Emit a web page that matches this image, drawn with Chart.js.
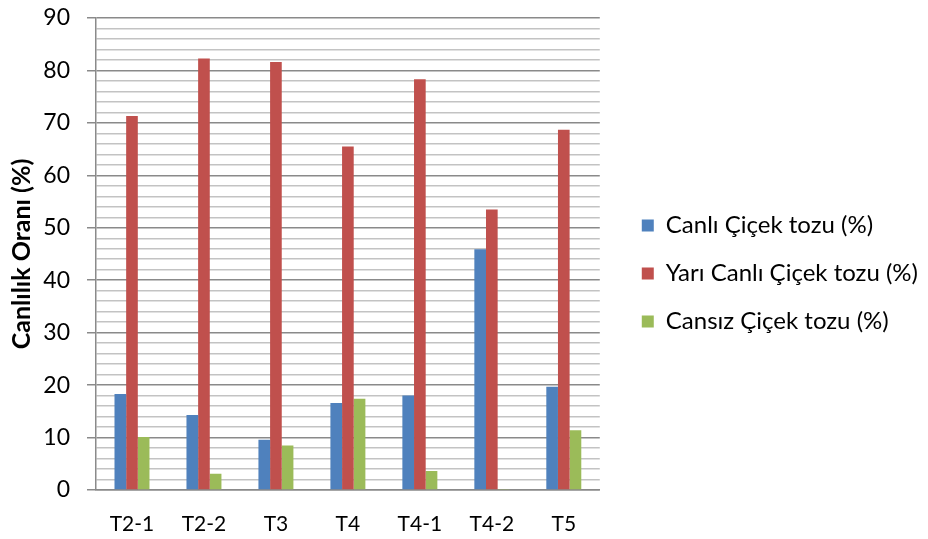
<!DOCTYPE html>
<html>
<head>
<meta charset="utf-8">
<script src="https://cdn.jsdelivr.net/npm/chart.js@4/dist/chart.umd.min.js"></script>
<style>
  html, body { margin: 0; padding: 0; background: #ffffff; }
  #wrap { position: relative; width: 928px; height: 539px; }
</style>
</head>
<body>
<div id="wrap"><canvas id="chart" width="928" height="539"></canvas></div>
<script>
// Pollen viability per treatment (percent)
const categories = ['T2-1', 'T2-2', 'T3', 'T4', 'T4-1', 'T4-2', 'T5'];
const canli      = [18.3, 14.3, 9.6, 16.6, 18.0, 45.9, 19.7];
const yariCanli  = [71.3, 82.3, 81.6, 65.5, 78.3, 53.5, 68.7];
const cansiz     = [10.1, 3.1, 8.5, 17.4, 3.6, 0.2, 11.4];

const seriesNames = ['Canlı Çiçek tozu (%)', 'Yarı Canlı Çiçek tozu (%)', 'Cansız Çiçek tozu (%)'];
const yTitle = 'Canlılık Oranı (%)';
const yMin = 0, yMax = 90, yMajorStep = 10, yMinorStep = 2;

const FONT = 'Lato, "Open Sans", "Liberation Sans", sans-serif';
const MAJOR = '#8a8a8a';
const MINOR = '#c3c3c3';
const isMajor = v => Math.abs(v % yMajorStep) < 1e-9;

new Chart(document.getElementById('chart'), {
  type: 'bar',
  data: {
    labels: categories,
    datasets: [
      { label: seriesNames[0], data: canli,     backgroundColor: '#4f81bd' },
      { label: seriesNames[1], data: yariCanli, backgroundColor: '#c0504d' },
      { label: seriesNames[2], data: cansiz,    backgroundColor: '#9bbb59' }
    ]
  },
  options: {
    responsive: false,
    animation: false,
    devicePixelRatio: 1,
    datasets: { bar: { categoryPercentage: 0.486, barPercentage: 1.0, borderWidth: 0 } },
    layout: { padding: { top: 18, bottom: 0, left: 0, right: 0 } },
    plugins: {
      tooltip: { enabled: false },
      legend: {
        position: 'right',
        align: 'center',
        maxWidth: 400,
        // empty title with negative padding nudges the item column upward
        title: { display: true, text: '', font: { family: FONT, size: 1 }, padding: { top: -11, bottom: 0 } },
        labels: {
          font: { family: FONT, size: 24 },
          color: '#000000',
          boxWidth: 12,
          boxHeight: 12,
          padding: 24
        }
      }
    },
    scales: {
      x: {
        afterFit: s => { s.height = 49; },
        grid: { display: false, drawTicks: false },
        border: { display: true, color: MAJOR, width: 1.5 },
        ticks: { font: { family: FONT, size: 21 }, color: '#000000', padding: 22, maxRotation: 0 }
      },
      y: {
        min: yMin,
        max: yMax,
        // fixed axis width; the top label may sit in the top margin
        afterFit: s => { s.width = 96; s.paddingTop = 0; s.paddingBottom = 0; },
        ticks: {
          stepSize: yMinorStep,
          autoSkip: false,
          padding: 17,
          font: { family: FONT, size: 23 },
          color: '#000000',
          callback: v => (isMajor(v) ? String(v) : '')
        },
        grid: {
          color: c => (isMajor(c.tick.value) ? MAJOR : MINOR),
          lineWidth: 1.5,
          tickLength: 9,
          tickColor: c => (isMajor(c.tick.value) ? MAJOR : 'rgba(0,0,0,0)')
        },
        border: { display: true, color: MAJOR, width: 1.5 },
        title: {
          display: true,
          text: yTitle,
          font: { family: FONT, size: 25, weight: 'bold' },
          color: '#000000',
          padding: { top: 7, bottom: 0 }
        }
      },
      // spacer between plot and legend
      gap: {
        type: 'linear',
        position: 'right',
        display: true,
        afterFit: s => { s.width = 18; },
        grid: { display: false, drawTicks: false },
        border: { display: false },
        ticks: { display: false }
      }
    }
  }
});
</script>
</body>
</html>
